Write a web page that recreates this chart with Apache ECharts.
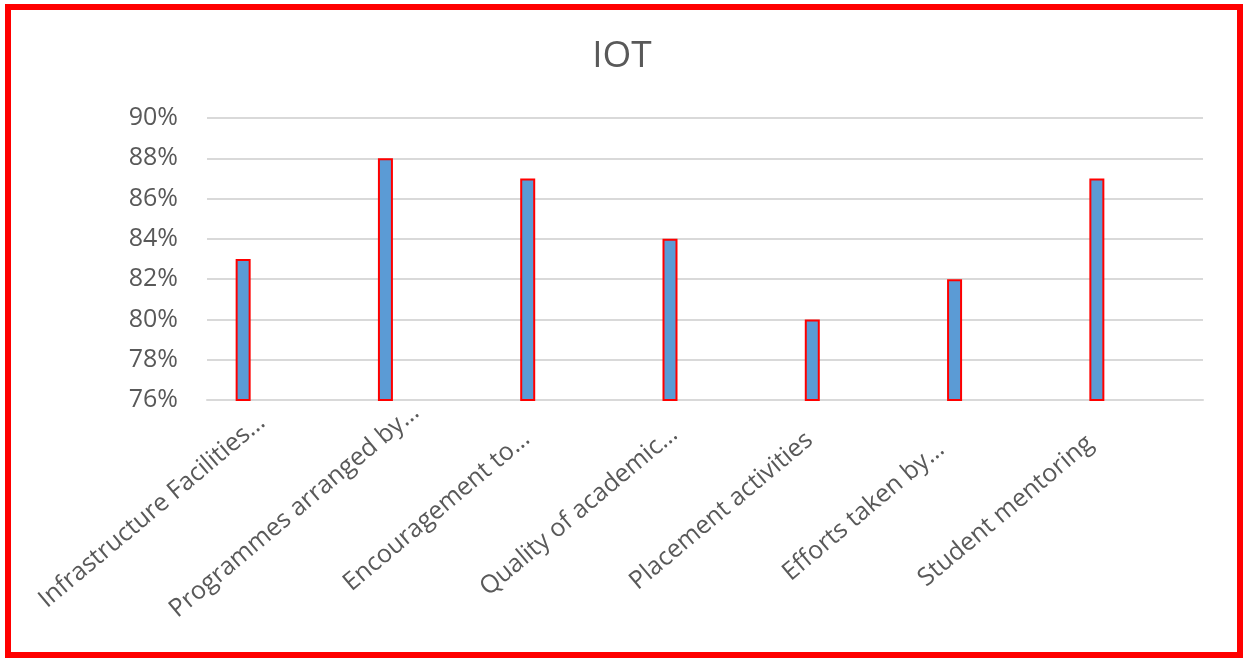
<!DOCTYPE html>
<html>
<head>
<meta charset="utf-8">
<script src="https://cdn.jsdelivr.net/npm/echarts@6/dist/echarts.min.js"></script>
<style>
html,body{margin:0;padding:0;background:#fff;}
#chart{width:1244px;height:658px;}
</style>
</head>
<body>
<div id="chart"></div>
<script>
const categories = [
  "Infrastructure Facilities…",
  "Programmes arranged by…",
  "Encouragement to…",
  "Quality of academic…",
  "Placement activities",
  "Efforts taken by…",
  "Student mentoring"
];
const values = [83, 88, 87, 84, 80, 82, 87];
const yTicks = { min: 76, max: 90, interval: 2 };
const titleText = "IOT";

const chart = echarts.init(document.getElementById('chart'));
const font = "'Open Sans', 'Liberation Sans', Arial, sans-serif";
const textColor = '#595959';
chart.setOption({
  animation: false,
  backgroundColor: '#ffffff',
  title: {
    text: titleText,
    left: 'center',
    top: 33,
    textStyle: { fontFamily: font, fontSize: 37, fontWeight: 'normal', color: textColor }
  },
  graphic: [{
    type: 'rect',
    shape: { x: 8, y: 7, width: 1232, height: 648 },
    style: { fill: 'none', stroke: '#ff0000', lineWidth: 6 },
    z: 100
  }],
  grid: [
    { left: 207, right: 41, top: 118, bottom: 258 },
    { left: 172, right: 76, top: 118, bottom: 258 },
    { left: 81, right: 167, top: 118, bottom: 258 }
  ],
  xAxis: [
    {
      type: 'category', gridIndex: 0, data: categories,
      axisLine: { show: true, lineStyle: { color: '#d9d9d9', width: 2 } },
      axisTick: { show: false },
      axisLabel: { show: false }
    },
    {
      type: 'category', gridIndex: 1, data: categories, show: false
    },
    {
      type: 'category', gridIndex: 2, data: categories,
      axisLine: { show: false }, axisTick: { show: false },
      axisLabel: { rotate: 40, margin: 111, interval: 0, align: 'center', verticalAlign: 'middle',
                   fontFamily: font, fontSize: 25, color: textColor }
    }
  ],
  yAxis: [
    {
      type: 'value', gridIndex: 0, min: yTicks.min, max: yTicks.max, interval: yTicks.interval,
      axisLine: { show: false }, axisTick: { show: false },
      splitLine: { lineStyle: { color: '#d9d9d9', width: 2 } },
      axisLabel: { formatter: '{value}%', margin: 29, fontFamily: font, fontSize: 25, color: textColor }
    },
    {
      type: 'value', gridIndex: 1, min: yTicks.min, max: yTicks.max, interval: yTicks.interval, show: false
    },
    {
      type: 'value', gridIndex: 2, min: yTicks.min, max: yTicks.max, interval: yTicks.interval, show: false
    }
  ],
  series: [{
    type: 'bar',
    xAxisIndex: 1, yAxisIndex: 1,
    data: values,
    barWidth: 15,
    itemStyle: { color: '#5b9bd5', borderColor: '#ff0000', borderWidth: 2 }
  }]
});
</script>
</body>
</html>
